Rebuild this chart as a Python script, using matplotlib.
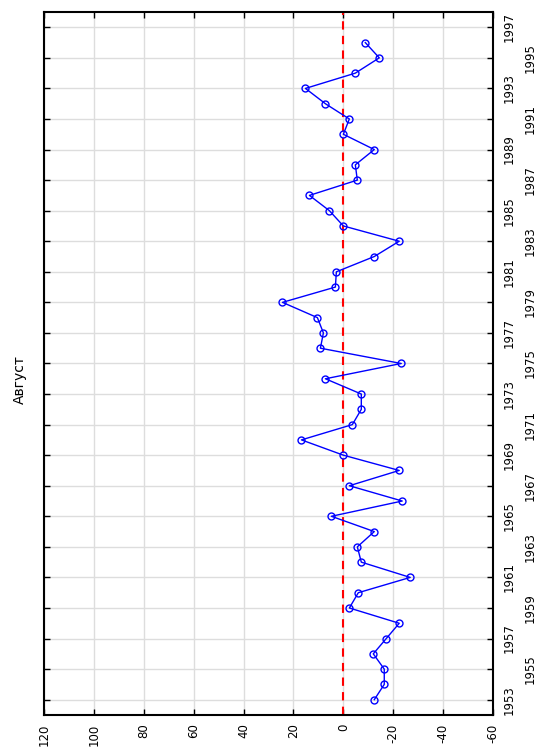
import numpy as np
import matplotlib
matplotlib.use("Agg")
import matplotlib.pyplot as plt

plt.rcParams["font.family"] = ["DejaVu Sans"]
plt.rcParams["axes.unicode_minus"] = False

# August anomalies per year (chart is drawn rotated 90 degrees counter-clockwise)
years = list(range(1953, 1997))
values = [
    -12.4, -16.4, -16.4, -12.0, -17.2, -22.4, -2.4, -6.0, -26.8, -7.2,
    -5.6, -12.4, 4.8, -23.6, -2.4, -22.4, 0.0, 16.8, -3.6, -7.2,
    -7.2, 7.2, -23.2, 9.2, 8.0, 10.4, 24.4, 3.2, 2.8, -12.4,
    -22.4, 0.0, 5.6, 13.6, -5.6, -4.8, -12.4, 0.0, -2.4, 7.2,
    15.2, -4.8, -14.4, -8.8,
]
year_ticks = list(range(1953, 1998, 2))
value_ticks = list(range(-60, 121, 20))
title = "Август"

fig = plt.figure(figsize=(5.4, 7.51), dpi=100)
ax = fig.add_axes([0.0815, 0.048, 0.8315, 0.936])

ax.plot(values, years, color="blue", lw=1, marker="o", ms=5,
        mfc="none", mec="blue", mew=1, zorder=3)
ax.axvline(0, color="red", ls="--", lw=1.5, dashes=(4, 3), zorder=2)

ax.set_xlim(120, -60)
ax.set_ylim(1952, 1998)
ax.set_xticks(value_ticks)
ax.set_xticklabels([str(v) for v in value_ticks], rotation=90, fontsize=8.5)
ax.set_yticks(year_ticks)
ax.yaxis.tick_right()
ax.set_yticklabels([str(y) for y in year_ticks], rotation=90, fontsize=8.5,
                   va="center")
for i, t in enumerate(ax.yaxis.get_major_ticks()):
    t.set_pad(7 if i % 2 == 0 else 22)

ax.tick_params(axis="both", direction="in", length=4, width=1,
               top=True, bottom=True, left=True, right=True)
ax.tick_params(axis="x", pad=6)
ax.grid(True, color="#dddddd", lw=1)
ax.set_axisbelow(True)
for s in ax.spines.values():
    s.set_linewidth(1.5)

fig.text(0.037, 0.494, title, rotation=90, ha="center", va="center",
         fontsize=10)

fig.savefig("out.png", dpi=100)
